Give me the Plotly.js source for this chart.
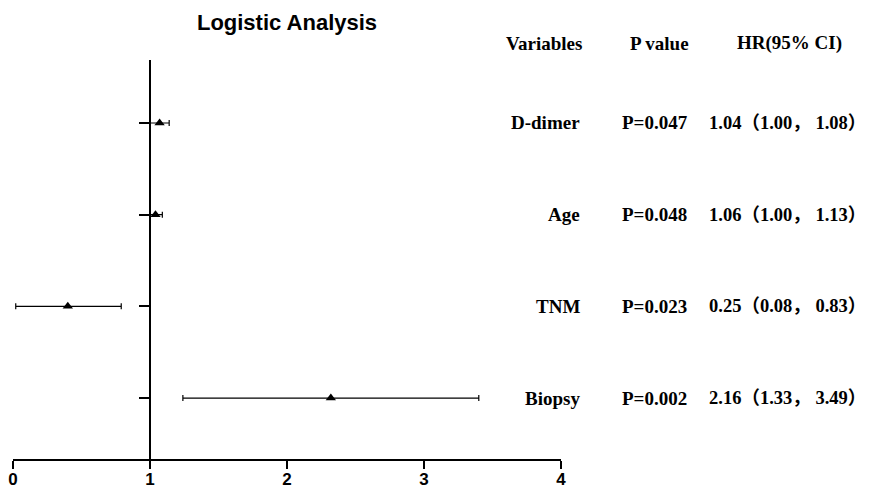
<!DOCTYPE html>
<html>
<head>
<meta charset="utf-8">
<script src="https://cdn.plot.ly/plotly-3.0.1.min.js"></script>
<style>html,body{margin:0;padding:0;background:#fff;}</style>
</head>
<body>
<div id="chart" style="width:871px;height:490px;"></div>
<script>
// Data
const variables = ["D-dimer", "Age", "TNM", "Biopsy"];
const estimates = [1.07, 1.04, 0.40, 2.32];
const ciLow = [1.00, 1.00, 0.02, 1.24];
const ciHigh = [1.14, 1.09, 0.79, 3.40];
const pValues = ["P=0.047", "P=0.048", "P=0.023", "P=0.002"];
const hrTexts = ["1.04（1.00， 1.08）", "1.06（1.00， 1.13）", "0.25（0.08， 0.83）", "2.16（1.33， 3.49）"];
const headers = ["Variables", "P value", "HR(95% CI)"];
const xTicks = [0, 1, 2, 3, 4];

const plotL = 13, plotR = 561;
const px = v => (v - plotL) / (plotR - plotL);

const trace = {
  type: "scatter",
  mode: "markers",
  x: estimates,
  y: variables,
  marker: {symbol: "triangle-up", size: 9, color: "#000"},
  error_x: {
    type: "data",
    symmetric: false,
    array: estimates.map((e, i) => ciHigh[i] - e),
    arrayminus: estimates.map((e, i) => e - ciLow[i]),
    color: "#000",
    thickness: 1.2,
    width: 3
  },
  showlegend: false,
  hoverinfo: "skip"
};

const serif = "Liberation Serif, Times New Roman, Noto Sans CJK SC, serif";
const annFont = {family: serif, size: 19, color: "#000", weight: "bold"};
const hrFont = {family: serif, size: 18.5, color: "#000", weight: "bold"};
const annotations = [];
const headY = (459 - 43) / 399;
function ann(o) {
  annotations.push(Object.assign({showarrow: false, font: annFont, borderpad: 0, borderwidth: 0, yanchor: "middle", xref: "paper"}, o));
}
ann({yref: "paper", x: px(582), y: headY, xanchor: "right", text: "<b>" + headers[0] + "</b>"});
ann({yref: "paper", x: px(659), y: headY, xanchor: "center", text: "<b>" + headers[1] + "</b>"});
ann({yref: "paper", x: px(789), y: headY, xanchor: "center", text: "<b>" + headers[2] + "</b>"});
variables.forEach((v, i) => {
  ann({yref: "y", x: px(580), y: v, xanchor: "right", text: "<b>" + v + "</b>"});
  ann({yref: "y", x: px(622), y: v, xanchor: "left", text: "<b>" + pValues[i] + "</b>"});
  ann({yref: "y", x: px(709), y: v, xanchor: "left", text: "<b>" + hrTexts[i] + "</b>", font: hrFont});
});

const layout = {
  width: 871,
  height: 490,
  font: {family: "Liberation Sans, Arial, sans-serif", size: 17, color: "#000"},
  margin: {l: plotL, r: 871 - plotR, t: 60, b: 31, pad: 0},
  paper_bgcolor: "#fff",
  plot_bgcolor: "#fff",
  title: {
    text: "<b>Logistic Analysis</b>",
    font: {family: "Liberation Sans, Arial, sans-serif", size: 22, color: "#000"},
    xref: "paper", x: 0.5, xanchor: "center",
    yref: "container", y: 1 - 22 / 490, yanchor: "middle"
  },
  xaxis: {
    range: [0, 4],
    tickvals: xTicks,
    ticktext: xTicks.map(t => "<b>" + t + "</b>"),
    showgrid: false,
    zeroline: false,
    showline: true,
    linecolor: "#000",
    linewidth: 2,
    ticks: "outside",
    ticklen: 8,
    tickwidth: 2,
    tickcolor: "#000",
    ticklabelstandoff: -4,
    tickfont: {family: "Liberation Sans, Arial, sans-serif", size: 17, color: "#000"},
    fixedrange: true
  },
  yaxis: {
    type: "category",
    categoryorder: "array",
    categoryarray: variables.slice().reverse(),
    range: [-0.665, 3.687],
    anchor: "free",
    position: 1 / 4,
    showgrid: false,
    zeroline: false,
    showline: true,
    linecolor: "#000",
    linewidth: 2,
    ticks: "outside",
    ticklen: 10,
    tickwidth: 2,
    tickcolor: "#000",
    showticklabels: false,
    fixedrange: true
  },
  annotations: annotations
};

Plotly.newPlot("chart", [trace], layout, {displayModeBar: false, staticPlot: true});
</script>
</body>
</html>
